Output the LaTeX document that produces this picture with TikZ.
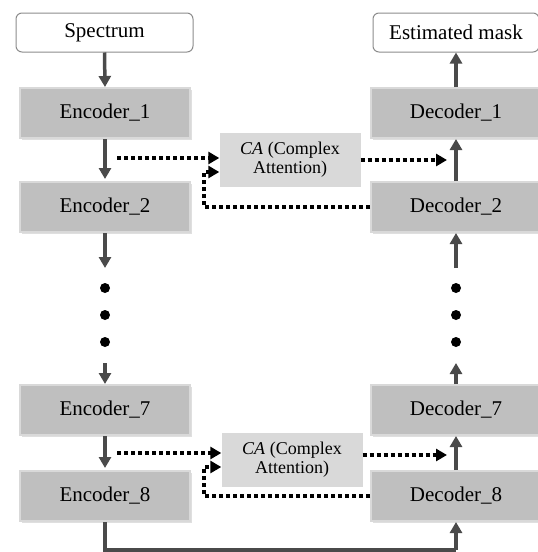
\documentclass[tikz,border=0pt]{standalone}
\usepackage{fontspec}
\setmainfont{Liberation Serif}
\usetikzlibrary{arrows.meta,shadows}
\definecolor{boxfill}{HTML}{BFBFBF}
\definecolor{boxedge}{HTML}{D9D9D9}
\definecolor{cafill}{HTML}{D9D9D9}
\definecolor{arrowgray}{HTML}{4A4A4A}
\definecolor{ioedge}{HTML}{8C8C8C}
\begin{document}
\begin{tikzpicture}[x=1pt,y=-1pt,
  iobox/.style={draw=ioedge, line width=1pt, rounded corners=6pt, fill=white,
    minimum width=177pt, minimum height=39pt, inner sep=0pt,
    font=\fontsize{21}{24}\selectfont},
  blockbox/.style={fill=boxfill, draw=boxedge, line width=2pt,
    minimum width=170pt, minimum height=50pt, inner sep=0pt,
    drop shadow={opacity=0.25, shadow xshift=1.5pt, shadow yshift=-1.5pt},
    font=\fontsize{21}{24}\selectfont},
  cabox/.style={fill=cafill, minimum width=141pt, minimum height=54pt,
    inner sep=0pt, align=center, font=\fontsize{18}{19}\selectfont},
  flow/.style={draw=arrowgray, line width=3.5pt,
    -{Triangle[width=12pt,length=11pt]}},
  flowline/.style={draw=arrowgray, line width=3.5pt},
  skip/.style={draw=black, line width=4pt, dash pattern=on 4pt off 3pt,
    -{Triangle[width=12pt,length=11pt]}},
  skipline/.style={draw=black, line width=4pt, dash pattern=on 4pt off 3pt},
  dotmark/.style={circle, fill=black, minimum size=10pt, inner sep=0pt}
]
\useasboundingbox (0,0) rectangle (538,552);

% input / output
\node[iobox] (spec) at (104.5,32.5) {Spectrum};
\node[iobox, minimum width=166pt] (mask) at (456,32.5) {Estimated mask};

% encoder column
\node[blockbox] (e1) at (105,113) {Encoder\_1};
\node[blockbox] (e2) at (105,207) {Encoder\_2};
\node[blockbox] (e7) at (105,410) {Encoder\_7};
\node[blockbox] (e8) at (105,496) {Encoder\_8};

% decoder column
\node[blockbox] (d1) at (456,113) {Decoder\_1};
\node[blockbox] (d2) at (456,207) {Decoder\_2};
\node[blockbox] (d7) at (456,410) {Decoder\_7};
\node[blockbox] (d8) at (456,496) {Decoder\_8};

% complex attention blocks
\node[cabox] (ca1) at (290,160) {\textit{CA} (Complex\\Attention)};
\node[cabox] (ca2) at (292,460) {\textit{CA} (Complex\\Attention)};

% dots
\node[dotmark] (ea) at (105,288) {};
\node[dotmark] (eb) at (105,315) {};
\node[dotmark] (ec) at (105,342) {};
\node[dotmark] (da) at (456,288) {};
\node[dotmark] (db) at (456,315) {};
\node[dotmark] (dc) at (456,342) {};

% helper coordinates
\coordinate (eup) at (105,268);
\coordinate (edn) at (105,363);
\coordinate (dup) at (456,268);
\coordinate (ddn) at (456,363);
\coordinate (bl) at (105,550);
\coordinate (br) at (456,550);

% solid flow
\draw[flow] (spec.south) -- (e1.north);
\draw[flow, shorten >=2pt] (e1.south) -- (e2.north);
\draw[flow] (e2.south) -- (eup);
\draw[flow] (edn) -- (e7.north);
\draw[flow, shorten >=2pt] (e7.south) -- (e8.north);
\draw[flow] (d1.north) -- (mask.south);
\draw[flow] (d2.north) -- (d1.south);
\draw[flow] (dup) -- (d2.south);
\draw[flow] (d7.north) -- (ddn);
\draw[flow] (d8.north) -- (d7.south);
\draw[flowline] (e8.south) -- (bl) -- (br);
\draw[flow] (br) -- (d8.south);

% skip connections, level 1
\coordinate (s1) at (117,158);
\coordinate (t1) at (447,160);
\coordinate (k1) at (204,207);
\draw[skip] (s1) -- (s1 -| ca1.west);
\draw[skip] (ca1.east |- t1) -- (t1);
\draw[skip] (d2.west) -- (k1) -- (204,172) -- (ca1.west |- 0,172);

% skip connections, level 8
\coordinate (s2) at (117,453);
\coordinate (t2) at (447,455);
\coordinate (k2) at (204,496);
\draw[skip] (s2) -- (s2 -| ca2.west);
\draw[skip] (ca2.east |- t2) -- (t2);
\draw[skip] (d8.west) -- (k2) -- (204,467) -- (ca2.west |- 0,467);
\end{tikzpicture}
\end{document}
